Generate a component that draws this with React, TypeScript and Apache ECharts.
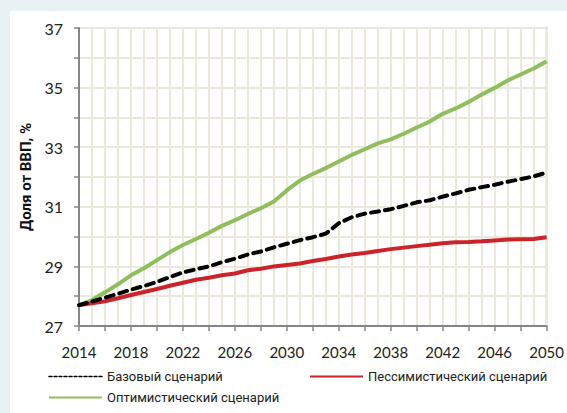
import React, { useEffect, useRef } from 'react';
import * as echarts from 'echarts';

const years = [
  '2014', '2015', '2016', '2017', '2018', '2019', '2020', '2021', '2022', '2023',
  '2024', '2025', '2026', '2027', '2028', '2029', '2030', '2031', '2032', '2033',
  '2034', '2035', '2036', '2037', '2038', '2039', '2040', '2041', '2042', '2043',
  '2044', '2045', '2046', '2047', '2048', '2049', '2050',
];

const baseValues = [
  27.7, 27.82, 27.95, 28.08, 28.22, 28.34, 28.48, 28.64, 28.8, 28.9,
  29.0, 29.14, 29.26, 29.4, 29.5, 29.64, 29.76, 29.88, 29.98, 30.1,
  30.45, 30.65, 30.77, 30.84, 30.92, 31.03, 31.15, 31.22, 31.34, 31.45,
  31.57, 31.66, 31.74, 31.84, 31.93, 32.02, 32.15,
];

const pessValues = [
  27.7, 27.76, 27.83, 27.93, 28.04, 28.14, 28.24, 28.35, 28.45, 28.55,
  28.62, 28.7, 28.76, 28.87, 28.92, 29.0, 29.05, 29.1, 29.18, 29.25,
  29.33, 29.4, 29.45, 29.52, 29.58, 29.63, 29.68, 29.73, 29.78, 29.81,
  29.82, 29.84, 29.87, 29.9, 29.91, 29.92, 29.98,
];

const optValues = [
  27.7, 27.87, 28.13, 28.4, 28.7, 28.94, 29.21, 29.48, 29.72, 29.92,
  30.13, 30.36, 30.55, 30.76, 30.95, 31.18, 31.55, 31.88, 32.1, 32.3,
  32.52, 32.74, 32.93, 33.13, 33.26, 33.45, 33.66, 33.86, 34.12, 34.3,
  34.52, 34.77, 34.99, 35.24, 35.44, 35.64, 35.88,
];

const seriesNames = ['Базовый сценарий', 'Пессимистический сценарий', 'Оптимистический сценарий'];
const yAxisTitle = 'Доля от ВВП, %';

const FONT = 'Lato, "Noto Sans", sans-serif';
const CYR_FONT = 'Roboto, "Noto Sans", sans-serif';
const NARROW_FONT = '"Liberation Sans Narrow", Roboto, sans-serif';
const GRID_COLOR = '#ebe8dc';
const AXIS_COLOR = '#868686';

export default function App() {
  const ref = useRef<HTMLDivElement>(null);

  useEffect(() => {
    if (!ref.current) return;
    const chart = echarts.init(ref.current, undefined, { renderer: 'svg' });
    const legendText = { fontSize: 13, color: '#222', fontFamily: CYR_FONT };
    chart.setOption({
      animation: false,
      backgroundColor: '#e9f1f4',
      textStyle: { fontFamily: FONT },
      graphic: [
        {
          type: 'rect',
          z: -10,
          silent: true,
          shape: { x: 10, y: 11, width: 557, height: 402 },
          style: { fill: '#ffffff' },
        },
      ],
      grid: {
        left: 79,
        right: 20,
        top: 28,
        bottom: 87,
        show: true,
        borderColor: AXIS_COLOR,
        borderWidth: 1.5,
        backgroundColor: 'transparent',
      },
      legend: [
        {
          data: [
            { name: seriesNames[0], lineStyle: { type: [3, 2], width: 1.5 } },
            { name: seriesNames[2], lineStyle: { width: 2 } },
          ],
          orient: 'vertical',
          left: 48,
          top: 370,
          itemWidth: 53,
          itemHeight: 14,
          itemGap: 8,
          padding: 0,
          itemStyle: { opacity: 0 },
          textStyle: legendText,
        },
        {
          data: [{ name: seriesNames[1], lineStyle: { width: 2 } }],
          orient: 'horizontal',
          left: 309,
          top: 370,
          itemWidth: 53,
          itemHeight: 14,
          padding: 0,
          itemStyle: { opacity: 0 },
          textStyle: legendText,
        },
      ],
      xAxis: {
        type: 'category',
        data: years,
        boundaryGap: false,
        axisLine: { lineStyle: { color: AXIS_COLOR, width: 2 } },
        axisTick: { interval: 1, length: 5, lineStyle: { color: AXIS_COLOR, width: 1.5 } },
        axisLabel: {
          interval: 3,
          margin: 18,
          fontSize: 15,
          color: '#222',
          fontFamily: FONT,
        },
        splitLine: { show: true, interval: 0, lineStyle: { color: GRID_COLOR, width: 2 } },
      },
      yAxis: {
        type: 'value',
        min: 27,
        max: 37,
        interval: 1,
        name: yAxisTitle,
        nameLocation: 'middle',
        nameGap: 36,
        nameTextStyle: { fontSize: 15, fontWeight: 'bold', color: '#111', fontFamily: NARROW_FONT },
        axisLine: { show: true, lineStyle: { color: AXIS_COLOR, width: 2 } },
        axisTick: { show: true, length: 5, lineStyle: { color: AXIS_COLOR, width: 1.5 } },
        axisLabel: {
          margin: 16,
          fontSize: 16,
          color: '#222',
          fontFamily: FONT,
          formatter: (v: number) => (Math.round(v) % 2 === 1 ? String(v) : ''),
        },
        splitLine: { show: true, lineStyle: { color: GRID_COLOR, width: 2 } },
      },
      series: [
        {
          name: seriesNames[2],
          type: 'line',
          data: optValues,
          symbol: 'none',
          z: 3,
          itemStyle: { color: '#8fbf5c' },
          lineStyle: { color: '#8fbf5c', width: 4 },
        },
        {
          name: seriesNames[1],
          type: 'line',
          data: pessValues,
          symbol: 'none',
          z: 4,
          itemStyle: { color: '#cc2229' },
          lineStyle: { color: '#cc2229', width: 4 },
        },
        {
          name: seriesNames[0],
          type: 'line',
          data: baseValues,
          symbol: 'none',
          z: 5,
          itemStyle: { color: '#000000' },
          lineStyle: { color: '#000000', width: 4, type: [8, 6], cap: 'round' },
        },
      ],
    });
    return () => chart.dispose();
  }, []);

  return (
    <div
      ref={ref}
      style={{ position: 'fixed', left: 0, top: 0, width: 567, height: 413 }}
    />
  );
}
